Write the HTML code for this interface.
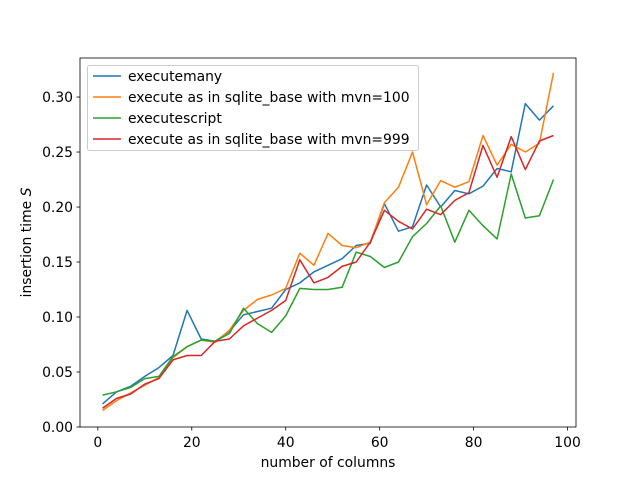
<!DOCTYPE html>
<html><head><meta charset="utf-8"><style>
html,body{margin:0;padding:0;background:#fff}
svg{display:block;font-family:"DejaVu Sans","Liberation Sans",sans-serif}
</style></head><body>
<svg id="chart" width="640" height="480" viewBox="0 0 640 480">
<rect width="640" height="480" fill="#fff"/>
<g id="plot"></g>
<g id="axes"></g>
</svg>
<script>
const xs = [1,4,7,10,13,16,19,22,25,28,31,34,37,40,43,46,49,52,55,58,61,64,67,70,73,76,79,82,85,88,91,94,97];
const executemany = [0.021,0.032,0.037,0.046,0.054,0.065,0.106,0.080,0.078,0.087,0.102,0.105,0.108,0.125,0.131,0.141,0.147,0.153,0.165,0.167,0.203,0.178,0.182,0.220,0.200,0.215,0.212,0.219,0.235,0.232,0.294,0.279,0.292];
const mvn100 = [0.015,0.024,0.031,0.038,0.045,0.063,0.073,0.079,0.077,0.088,0.106,0.116,0.120,0.126,0.158,0.147,0.176,0.165,0.163,0.168,0.204,0.218,0.250,0.202,0.224,0.218,0.223,0.265,0.238,0.257,0.250,0.258,0.322];
const executescript = [0.029,0.032,0.036,0.044,0.046,0.064,0.073,0.079,0.078,0.085,0.108,0.094,0.086,0.101,0.126,0.125,0.125,0.127,0.159,0.155,0.145,0.150,0.173,0.185,0.201,0.168,0.197,0.183,0.171,0.230,0.190,0.192,0.225];
const mvn999 = [0.017,0.026,0.030,0.039,0.044,0.061,0.065,0.065,0.078,0.080,0.092,0.099,0.106,0.115,0.152,0.131,0.136,0.146,0.150,0.168,0.197,0.187,0.180,0.198,0.193,0.206,0.213,0.256,0.227,0.264,0.234,0.260,0.265];
const seriesNames = ["executemany","execute as in sqlite_base with mvn=100","executescript","execute as in sqlite_base with mvn=999"];
const xTicks = [0,20,40,60,80,100];
const yTicks = [0.00,0.05,0.10,0.15,0.20,0.25,0.30];

const L=80,R=576,T=58,B=427;
const xMin=-3.8,xMax=101.8,yMin=0,yMax=0.3355;
const sx=v=>L+(v-xMin)/(xMax-xMin)*(R-L);
const sy=v=>B-(v-yMin)/(yMax-yMin)*(B-T);
const NS="http://www.w3.org/2000/svg";
const FS=13.9;
function mk(tag,attrs,parent){const e=document.createElementNS(NS,tag);for(const k in attrs)e.setAttribute(k,attrs[k]);parent.appendChild(e);return e;}
const plot=document.getElementById('plot'), axes=document.getElementById('axes');
const colors=["#1f77b4","#ff7f0e","#2ca02c","#d62728"];
const allSeries=[executemany,mvn100,executescript,mvn999];
const keys=["executemany","mvn-100","executescript","mvn-999"];
allSeries.forEach((s,i)=>{
  const p=mk('polyline',{points:s.map((v,j)=>sx(xs[j]).toFixed(1)+','+sy(v).toFixed(1)).join(' '),fill:'none',stroke:colors[i],'stroke-width':1.5,'stroke-linejoin':'round'},plot);
  
  
});
const frame=mk('rect',{x:L,y:T,width:R-L,height:B-T,fill:'none',stroke:'#000','stroke-width':0.8},axes);


xTicks.forEach(t=>{
  const x=sx(t);
  mk('line',{x1:x,x2:x,y1:B,y2:B+3.5,stroke:'#000','stroke-width':0.8},axes);
  const tx=mk('text',{x:x,y:B+20,'text-anchor':'middle','font-size':FS},axes);
  tx.textContent=t;
  
  
});
yTicks.forEach(t=>{
  const y=sy(t);
  mk('line',{x1:L-3.5,x2:L,y1:y,y2:y,stroke:'#000','stroke-width':0.8},axes);
  const tx=mk('text',{x:L-7,y:y+5,'text-anchor':'end','font-size':FS},axes);
  tx.textContent=t.toFixed(2);
  
  
});
const xl=mk('text',{x:(L+R)/2,y:467,'text-anchor':'middle','font-size':FS},axes);
xl.textContent='number of columns';


const yl=mk('text',{x:0,y:0,'text-anchor':'middle','font-size':FS,transform:'translate(31,'+((T+B)/2)+') rotate(-90)'},axes);
yl.innerHTML='insertion time <tspan font-style="italic">S</tspan>';


const lg=mk('g',{},axes);


mk('rect',{x:87.5,y:65.5,width:331,height:85,rx:2,fill:'#fff','fill-opacity':0.8,stroke:'#ccc','stroke-width':1},lg);
seriesNames.forEach((n,i)=>{
  const y=76+i*21;
  const g=mk('g',{},lg);
  
  
  mk('line',{x1:93,x2:121,y1:y,y2:y,stroke:colors[i],'stroke-width':1.5},g);
  const t=mk('text',{x:128,y:y+5,'font-size':FS},g);
  t.textContent=n;
});
</script>
</body></html>
